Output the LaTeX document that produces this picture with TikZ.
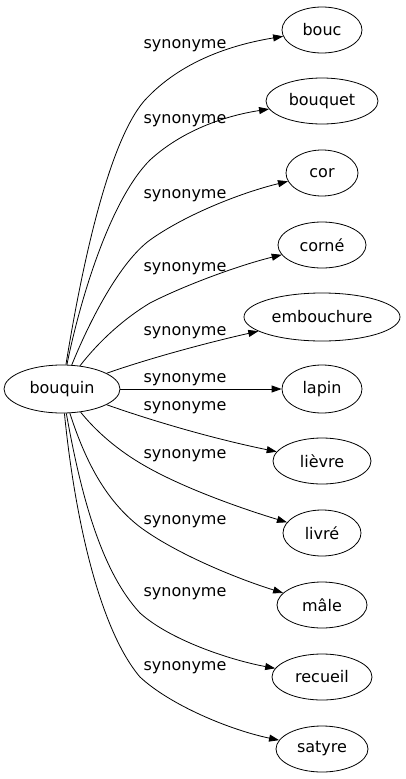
\documentclass[tikz,border=0pt]{standalone}
\usepackage{fontspec}
\setmainfont{DejaVu Sans}
\usetikzlibrary{shapes.geometric,arrows.meta}
\tikzset{
  word/.style={draw, ellipse, inner sep=0pt, minimum height=46pt, line width=0.8pt},
  lbl/.style={inner sep=0pt},
  rel/.style={line width=0.8pt, -{Triangle[length=10pt,width=7pt]}}
}
\begin{document}
\begin{tikzpicture}[x=1pt,y=-1pt,font=\fontsize{16}{19}\selectfont]
\useasboundingbox (0,0) rectangle (406,779);
\node[word, minimum width=116pt, minimum height=48pt] (bouquin) at (62,389) {bouquin};
\node[word, minimum width=80pt] (bouc) at (322,30) {bouc};
\node[word, minimum width=112pt] (bouquet) at (322,101) {bouquet};
\node[word, minimum width=72pt] (cor) at (322,173) {cor};
\node[word, minimum width=88pt] (corne) at (322,245) {corné};
\node[word, minimum width=156pt, minimum height=48pt] (embouchure) at (322,317) {embouchure};
\node[word, minimum width=80pt, minimum height=48pt] (lapin) at (322,389) {lapin};
\node[word, minimum width=98pt] (lievre) at (322,461) {lièvre};
\node[word, minimum width=78pt] (livre) at (322,533) {livré};
\node[word, minimum width=90pt] (male) at (322,605) {mâle};
\node[word, minimum width=100pt] (recueil) at (322,677) {recueil};
\node[word, minimum width=92pt] (satyre) at (322,749) {satyre};

\node[lbl] (l1) at (185,46) {synonyme};
\node[lbl] (l2) at (185,121) {synonyme};
\node[lbl] (l3) at (185,196) {synonyme};
\node[lbl] (l4) at (185,269) {synonyme};
\node[lbl] (l5) at (185,333) {synonyme};
\node[lbl] (l6) at (185,380) {synonyme};
\node[lbl] (l7) at (185,408) {synonyme};
\node[lbl] (l8) at (185,456) {synonyme};
\node[lbl] (l9) at (185,522) {synonyme};
\node[lbl] (l10) at (185,594) {synonyme};
\node[lbl] (l11) at (185,668) {synonyme};

\draw[rel] (bouquin) .. controls (78,290) and (105,145) .. (145,100) .. controls (180,62) and (230,45) .. (bouc);
\draw[rel] (bouquin) .. controls (80,300) and (110,200) .. (150,160) .. controls (185,128) and (230,115) .. (bouquet);
\draw[rel] (bouquin) .. controls (90,320) and (120,262) .. (150,240) .. controls (185,215) and (240,193) .. (cor);
\draw[rel] (bouquin) .. controls (100,340) and (125,318) .. (150,303) .. controls (185,285) and (240,265) .. (corne);
\draw[rel] (bouquin) .. controls (150,358) and (210,342) .. (embouchure);
\draw[rel] (bouquin) -- (lapin);
\draw[rel] (bouquin) .. controls (150,420) and (210,438) .. (lievre);
\draw[rel] (bouquin) .. controls (95,430) and (115,448) .. (140,463) .. controls (180,487) and (240,508) .. (livre);
\draw[rel] (bouquin) .. controls (85,460) and (105,500) .. (140,527) .. controls (175,553) and (235,578) .. (male);
\draw[rel] (bouquin) .. controls (80,490) and (100,570) .. (140,613) .. controls (170,640) and (230,660) .. (recueil);
\draw[rel] (bouquin) .. controls (75,520) and (100,630) .. (140,677) .. controls (170,705) and (230,730) .. (satyre);
\end{tikzpicture}
\end{document}
